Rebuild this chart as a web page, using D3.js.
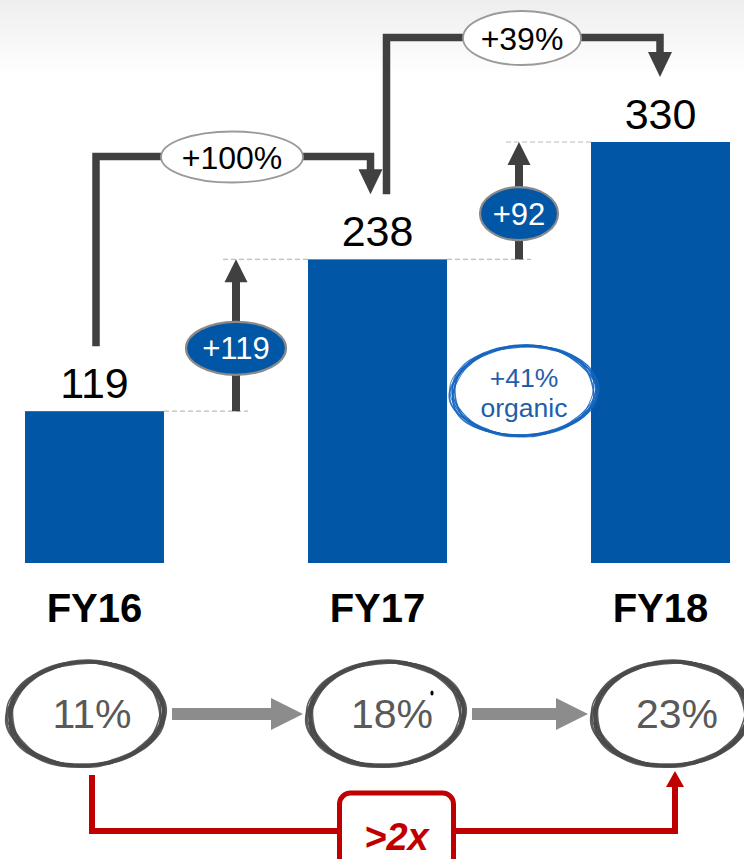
<!DOCTYPE html>
<html>
<head>
<meta charset="utf-8">
<script src="https://cdn.jsdelivr.net/npm/d3@7"></script>
<style>
  html, body { margin: 0; padding: 0; background: #fff; }
  svg { display: block; font-family: "Liberation Sans", Arial, sans-serif; }
</style>
</head>
<body>
<script>
// ---------- data ----------
const categories = ["FY16", "FY17", "FY18"];
const revenue = [119, 238, 330];
const margins = ["11%", "18%", "23%"];
const organicLabel = ["+41%", "organic"];
const multipleLabel = ">2x";

// ---------- setup ----------
const W = 744, H = 859;
const svg = d3.select("body").append("svg").attr("width", W).attr("height", H);

const defs = svg.append("defs");
const grad = defs.append("linearGradient").attr("id", "bg").attr("x1", 0).attr("y1", 0).attr("x2", 0).attr("y2", 1);
grad.append("stop").attr("offset", "0%").attr("stop-color", "#eeeeee");
grad.append("stop").attr("offset", "100%").attr("stop-color", "#ffffff");
svg.append("rect").attr("x", 0).attr("y", 0).attr("width", W).attr("height", 75).attr("fill", "url(#bg)");

const x = d3.scalePoint().domain(categories).range([94.5, 660.5]);
const y = d3.scaleLinear().domain([0, 330]).range([563, 142]);
const barW = 139;
const BLUE = "#0157a5";
const DARK = "#404040";

// ---------- dashed guide lines & delta arrows ----------
const gDelta = svg.append("g");
for (let i = 1; i < categories.length; i++) {
  const prev = categories[i - 1], cur = categories[i];
  const gx = ((x(prev) + barW / 2) + (x(cur) - barW / 2)) / 2;
  const y0 = y(revenue[i - 1]), y1 = y(revenue[i]);
  gDelta.append("line").attr("x1", x(prev) + barW / 2).attr("x2", gx + 12)
    .attr("y1", y0).attr("y2", y0)
    .attr("stroke", "#bdbdbd").attr("stroke-width", 1.2).attr("stroke-dasharray", "5,3");
  gDelta.append("line").attr("x1", gx - 13).attr("x2", x(cur) - barW / 2)
    .attr("y1", y1).attr("y2", y1)
    .attr("stroke", "#bdbdbd").attr("stroke-width", 1.2).attr("stroke-dasharray", "5,3");
  gDelta.append("line").attr("x1", gx).attr("x2", gx).attr("y1", y0).attr("y2", y1 + 22)
    .attr("stroke", DARK).attr("stroke-width", 8);
  gDelta.append("path")
    .attr("d", `M${gx - 11.5},${y1 + 23}L${gx + 11.5},${y1 + 23}L${gx},${y1}Z`)
    .attr("fill", DARK);
  const label = "+" + (revenue[i] - revenue[i - 1]);
  const cy = (y0 + y1) / 2 + 13;
  gDelta.append("ellipse").attr("cx", gx).attr("cy", cy)
    .attr("rx", 11 * label.length + 6).attr("ry", 26.5)
    .attr("fill", BLUE).attr("stroke", "#8a8a8a").attr("stroke-width", 2.2);
  gDelta.append("text").attr("x", gx).attr("y", cy + 11)
    .attr("text-anchor", "middle").attr("font-size", 31).attr("fill", "#fff")
    .text(label);
}

// ---------- bars ----------
svg.append("g").selectAll("rect").data(categories).join("rect")
  .attr("x", c => x(c) - barW / 2)
  .attr("y", (c, i) => y(revenue[i]))
  .attr("width", barW)
  .attr("height", (c, i) => y(0) - y(revenue[i]))
  .attr("fill", BLUE);

svg.append("g").selectAll("text").data(categories).join("text")
  .attr("x", c => x(c))
  .attr("y", (c, i) => y(revenue[i]) - 13)
  .attr("text-anchor", "middle").attr("font-size", 43).attr("fill", "#000")
  .text((c, i) => revenue[i]);

svg.append("g").selectAll("text").data(categories).join("text")
  .attr("x", c => x(c))
  .attr("y", 622)
  .attr("text-anchor", "middle").attr("font-size", 40).attr("font-weight", "bold").attr("fill", "#000")
  .text(c => c);

// ---------- growth brackets ----------
const gBr = svg.append("g");
const brackets = [
  { from: 0, to: 1, fx: x(categories[0]) + 1.5, tx: x(categories[1]) - 7, top: 156.5, oc: 232, rx: 71, ry: 25.5 },
  { from: 1, to: 2, fx: x(categories[1]) + 9, tx: x(categories[2]) - 0.5, top: 37.5, oc: 522, rx: 59, ry: 27 }
];
brackets.forEach(b => {
  const startY = y(revenue[b.from]) - 13 - 52;
  const tipY = y(revenue[b.to]) - 13 - 52;
  gBr.append("path")
    .attr("d", `M${b.fx},${startY}V${b.top}H${b.tx}V${tipY - 23}`)
    .attr("fill", "none").attr("stroke", DARK).attr("stroke-width", 7.5)
    .attr("stroke-linejoin", "miter");
  gBr.append("path")
    .attr("d", `M${b.tx - 12},${tipY - 25}L${b.tx + 12},${tipY - 25}L${b.tx},${tipY}Z`)
    .attr("fill", DARK);
  const pct = "+" + Math.round((revenue[b.to] / revenue[b.from] - 1) * 100) + "%";
  gBr.append("ellipse").attr("cx", b.oc).attr("cy", b.top + 0.5).attr("rx", b.rx).attr("ry", b.ry)
    .attr("fill", "#fff").attr("stroke", "#9a9a9a").attr("stroke-width", 1.8);
  gBr.append("text").attr("x", b.oc).attr("y", b.top + 12)
    .attr("text-anchor", "middle").attr("font-size", 32).attr("fill", "#000")
    .text(pct);
});

// ---------- scribble helper ----------
const lineGen = d3.line().curve(d3.curveBasis);
function scribble(g, cx, cy, rx, ry, n, color, sw, tilt) {
  for (let k = 0; k < n; k++) {
    const pts = [];
    const start = k * 1.37 + 0.4;
    const span = 2 * Math.PI + 0.5;
    for (let i = 0; i <= 72; i++) {
      const t = start + span * i / 72;
      const wob = 1 + 0.022 * Math.sin(3 * t + k * 1.1) + 0.014 * Math.sin(5 * t + 2.3 * k)
        + 0.012 * Math.cos(t + k * 0.7);
      const px = rx * wob * Math.cos(t), py = ry * wob * Math.sin(t);
      pts.push([cx + px * Math.cos(tilt) - py * Math.sin(tilt), cy + px * Math.sin(tilt) + py * Math.cos(tilt)]);
    }
    g.append("path").attr("d", lineGen(pts))
      .attr("fill", "none").attr("stroke", color)
      .attr("stroke-width", sw * (0.55 + 0.45 * ((k * 7) % 4) / 3))
      .attr("stroke-opacity", 0.9).attr("stroke-linecap", "round");
  }
}

// organic scribble
const gOrg = svg.append("g");
const ox = (x(categories[1]) + barW / 2 + x(categories[2]) - barW / 2) / 2 + 5;
gOrg.append("ellipse").attr("cx", ox).attr("cy", 391).attr("rx", 72).attr("ry", 45).attr("fill", "#fff");
scribble(gOrg, ox, 391, 72, 45, 7, "#1565c0", 1.7, -0.04);
gOrg.selectAll("text.org").data(organicLabel).join("text")
  .attr("class", "org")
  .attr("x", ox).attr("y", (d, i) => 387 + i * 30)
  .attr("text-anchor", "middle").attr("font-size", 26.5).attr("fill", "#1f5eab")
  .text(d => d);

// ---------- margin circles ----------
const circleX = d3.scaleOrdinal().domain(categories).range([86, 386, 671]);
const gM = svg.append("g");
const CY = 714, CRX = 77, CRY = 52;

for (let i = 1; i < categories.length; i++) {
  const x0 = circleX(categories[i - 1]) + CRX + 9;
  const x1 = circleX(categories[i]) - CRX - 6;
  const hl = 32;
  gM.append("path")
    .attr("d", `M${x0},${CY - 6}H${x1 - hl}V${CY - 16}L${x1},${CY}L${x1 - hl},${CY + 16}V${CY + 6}H${x0}Z`)
    .attr("fill", "#8c8c8c");
}

categories.forEach((c, i) => {
  const cx = circleX(c);
  scribble(gM, cx, CY, CRX, CRY, 8, "#4a4a4a", 2.7, -0.05);
  gM.append("text").attr("x", cx + 6).attr("y", CY + 14)
    .attr("text-anchor", "middle").attr("font-size", 41).attr("fill", "#595959")
    .text(margins[i]);
});
gM.append("ellipse").attr("cx", circleX(categories[1]) + 46).attr("cy", 693).attr("rx", 1.6).attr("ry", 2.6).attr("fill", "#000");

// ---------- red >2x connector ----------
const RED = "#c00000";
const lx = circleX(categories[0]) + 6, rxp = circleX(categories[2]) + 4;
const gR = svg.append("g");
gR.append("path").attr("d", `M${lx},775V831H${rxp}V784`)
  .attr("fill", "none").attr("stroke", RED).attr("stroke-width", 6).attr("stroke-linejoin", "miter");
gR.append("path").attr("d", `M${rxp - 9},787L${rxp + 9},787L${rxp},771Z`).attr("fill", RED);
const bx = (lx + rxp) / 2 + 13;
gR.append("rect").attr("x", bx - 57).attr("y", 793).attr("width", 114).attr("height", 80).attr("rx", 11)
  .attr("fill", "#fff").attr("stroke", RED).attr("stroke-width", 5);
gR.append("text").attr("x", bx).attr("y", 850)
  .attr("text-anchor", "middle").attr("font-size", 38).attr("font-weight", "bold").attr("font-style", "italic")
  .attr("fill", RED).text(multipleLabel);
</script>
</body>
</html>
